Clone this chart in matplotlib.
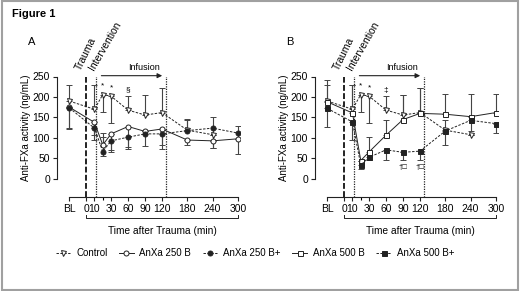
import numpy as np
import matplotlib
matplotlib.use("Agg")
from matplotlib import pyplot as plt
from matplotlib.patches import Rectangle

plt.rcParams['font.family'] = ['Liberation Sans', 'DejaVu Sans']
plt.rcParams['font.size'] = 7

# time points (BL drawn at -20)
times = [-20, 10, 20, 30, 60, 90, 120, 180, 240, 300]
tick_pos = [-20, 0, 10, 30, 60, 90, 120, 180, 240, 300]
tick_lab = ['BL', '0', '10', '30', '60', '90', '120', '180', '240', '300']

# control group (both panels), ends at 240 min
ctrl_mean = [190, 170, 206, 202, 168, 156, 162, 119, 108]
ctrl_lo = [0, 0, 42, 66, 0, 0, 0, 0, 0]
ctrl_hi = [39, 59, 0, 0, 35, 49, 59, 26, 0]

# panel A
a250_mean = [175, 138, 83, 110, 128, 116, 122, 95, 93, 98]
a250_lo = [50, 30, 0, 40, 50, 0, 39, 12, 18, 0]
a250_hi = [0, 0, 30, 0, 0, 0, 0, 0, 0, 0]
a250p_mean = [173, 124, 67, 93, 102, 110, 110, 118, 124, 112]
a250p_lo = [50, 30, 12, 26, 28, 30, 36, 0, 49, 52]
a250p_hi = [0, 0, 36, 0, 0, 0, 0, 28, 28, 17]

# panel B
a500_mean = [188, 161, 45, 66, 107, 145, 160, 158, 152, 162]
a500_lo = [0, 0, 0, 0, 0, 0, 0, 0, 0, 0]
a500_hi = [53, 68, 0, 37, 37, 60, 61, 49, 55, 45]
a500p_mean = [172, 139, 34, 53, 71, 65, 68, 117, 143, 135]
a500p_lo = [45, 44, 10, 7, 25, 19, 22, 34, 25, 22]
a500p_hi = [0, 0, 0, 0, 0, 0, 0, 0, 0, 0]

T_KNOTS = [-60, -20, 30, 120, 300, 360]
U_KNOTS = [-50.0, -16.7, 25, 76, 152, 177.3]


def fwd(t):
    return np.interp(t, T_KNOTS, U_KNOTS)


def inv(u):
    return np.interp(u, U_KNOTS, T_KNOTS)


DARK = '#222222'
ERR = '#444444'
dash = (0, (2.5, 1.5))


def series(ax, t, mean, lo, hi, marker, filled, ls, label):
    n = len(mean)
    cont = ax.errorbar(t[:n], mean, yerr=[lo, hi], color=DARK, ecolor=ERR, elinewidth=0.8,
                       capsize=2, capthick=0.8, lw=0.7, ls=ls, marker=marker, ms=3.6,
                       mfc=DARK if filled else 'white', mec=DARK, mew=0.7, zorder=3)
    cont[0].set_label(label)
    return cont[0]


def panel(left_px, letter):
    W, H = 520, 291
    ax = fig.add_axes([left_px / W, (H - 197) / H, 183 / W, 120.5 / H])
    ax.set_xscale('function', functions=(fwd, inv))
    ax.set_xlim(-35, 305)
    ax.set_ylim(-44, 250)
    for s in ['top', 'right']:
        ax.spines[s].set_visible(False)
    ax.spines['left'].set_bounds(0, 250)
    ax.spines['bottom'].set_bounds(-20, 300)
    for s in ['left', 'bottom']:
        ax.spines[s].set_linewidth(0.8)
        ax.spines[s].set_color(DARK)
    ax.set_yticks([0, 50, 100, 150, 200, 250])
    ax.set_xticks(tick_pos)
    ax.set_xticklabels(tick_lab)
    ax.xaxis.set_minor_locator(matplotlib.ticker.FixedLocator([20]))
    ax.tick_params(length=3, width=0.8, color=DARK, labelsize=7.5, pad=2)
    ax.tick_params(which='minor', length=2, width=0.8)
    ax.set_ylabel('Anti-FXa activity (ng/mL)', fontsize=7)
    ax.yaxis.set_label_coords(-0.14, 0.573)
    # event lines
    ax.vlines(0, -44, 252, colors=DARK, linestyles=(0, (3, 1.2)), lw=1.4)
    ax.vlines([12, 130], -44, 252, colors=DARK, linestyles=(0, (1, 1)), lw=0.9)
    ax.text(-4, 262, 'Trauma', rotation=64, rotation_mode='anchor', ha='left', va='bottom', fontsize=7.5, clip_on=False)
    ax.text(11, 262, 'Intervention', rotation=60, rotation_mode='anchor', ha='left', va='bottom', fontsize=7.5, clip_on=False)
    ax.annotate('', xy=(127, 252), xytext=(15, 252), annotation_clip=False,
                arrowprops=dict(arrowstyle='-|>', color=DARK, lw=0.8, mutation_scale=7))
    ax.text(88, 262, 'Infusion', ha='center', va='bottom', fontsize=6.5, clip_on=False)
    # bracket and axis title
    ax.plot([0, 0, 300, 300], [-89, -95, -95, -89], color=DARK, lw=0.7, clip_on=False)
    ax.text(120, -128, 'Time after Trauma (min)', ha='center', va='center', fontsize=7.3, clip_on=False)
    fig.text((left_px - 29) / W, 1 - 42 / H, letter, fontsize=8, ha='left', va='center')
    return ax


fig = plt.figure(figsize=(5.2, 2.91), dpi=100)
fig.patches.append(Rectangle((0.003, 0.004), 0.993, 0.991, transform=fig.transFigure,
                             fill=False, edgecolor='#a0a0a0', lw=1.5))
fig.text(12 / 520, 1 - 14 / 291, 'Figure 1', fontsize=8, fontweight='bold', ha='left', va='center')

axA = panel(57, 'A')
hc = series(axA, times, ctrl_mean, ctrl_lo, ctrl_hi, 'v', False, dash, 'Control')
h1 = series(axA, times, a250_mean, a250_lo, a250_hi, 'o', False, '-', 'AnXa 250 B')
h2 = series(axA, times, a250p_mean, a250p_lo, a250p_hi, 'o', True, dash, 'AnXa 250 B+')
axA.text(20, 219, '*', ha='center', va='bottom', fontsize=6)
axA.text(30, 213, '*', ha='center', va='bottom', fontsize=6)
axA.text(60, 208, '§', ha='center', va='bottom', fontsize=6)

axB = panel(315, 'B')
series(axB, times, ctrl_mean, ctrl_lo, ctrl_hi, 'v', False, dash, 'Control')
h3 = series(axB, times, a500_mean, a500_lo, a500_hi, 's', False, '-', 'AnXa 500 B')
h4 = series(axB, times, a500p_mean, a500p_lo, a500p_hi, 's', True, dash, 'AnXa 500 B+')
axB.text(20, 219, '*', ha='center', va='bottom', fontsize=6)
axB.text(30, 213, '*', ha='center', va='bottom', fontsize=6)
axB.text(60, 208, '‡', ha='center', va='bottom', fontsize=6)
for tt in [90, 120]:
    axB.text(tt, 27, '†□', ha='center', va='center', fontsize=5.5)

handles = [hc, h1, h2, h3, h4]
fig.legend(handles, [h.get_label() for h in handles], loc='center',
           bbox_to_anchor=(255 / 520, 1 - 253 / 291), ncol=5, frameon=False, fontsize=7,
           handlelength=1.5, handletextpad=0.6, columnspacing=1.2)

fig.savefig('out.png', dpi=100)
